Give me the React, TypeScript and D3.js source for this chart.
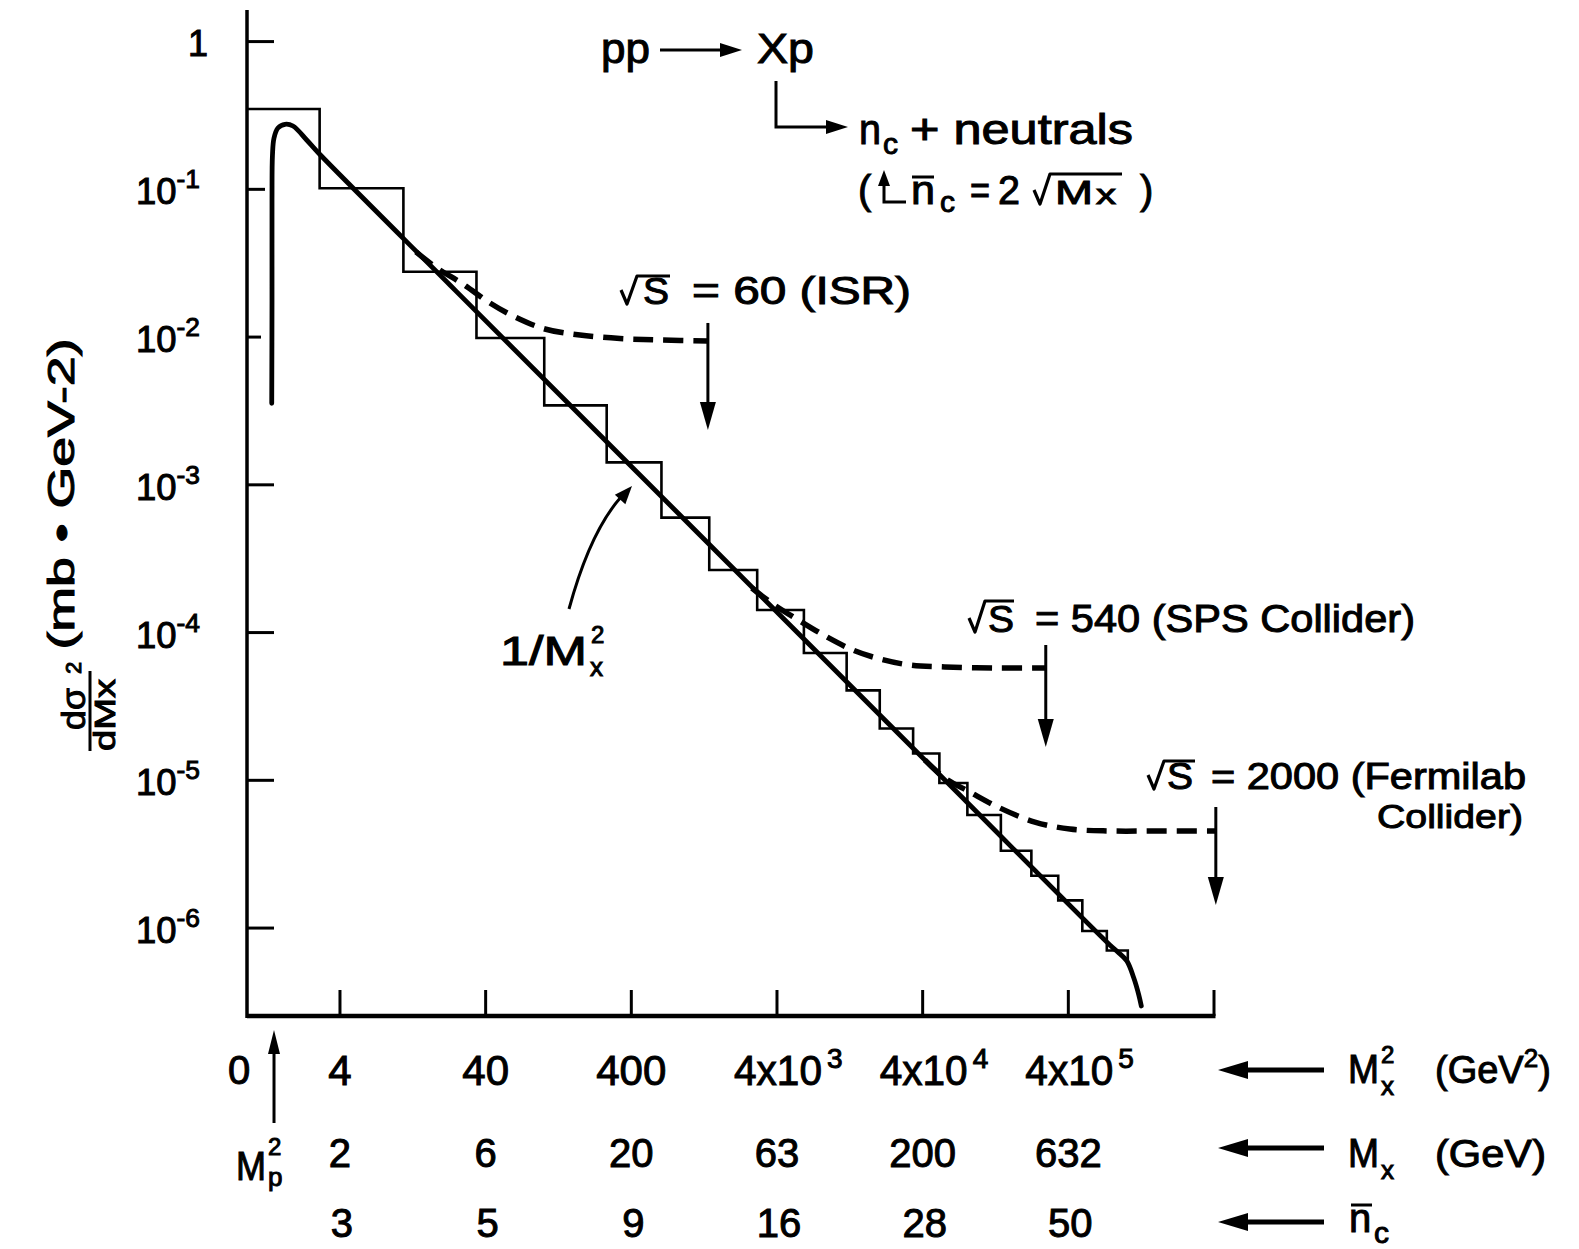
import React from 'react';
import * as d3 from 'd3';

const W = 1579;
const H = 1249;

// x axis: M_x^2 in GeV^2 (log), plus the matching M_x and mean charged multiplicity rows
const mx2Ticks = [4, 40, 400, 4e3, 4e4, 4e5, 4e6];
const mx2Labels = ['4', '40', '400', '4x10', '4x10', '4x10'];
const mx2Powers = ['', '', '', '3', '4', '5'];
const mxLabels = ['2', '6', '20', '63', '200', '632'];
const ncLabels = ['3', '5', '9', '16', '28', '50'];
const mp2 = 1.41; // M_p^2 marker

// y axis: dsigma/dMx^2 in mb GeV^-2 (log)
const yTicks = [1, 1e-1, 1e-2, 1e-3, 1e-4, 1e-5, 1e-6];
const yPowers = ['', '-1', '-2', '-3', '-4', '-5', '-6'];

// histogram: bin edges in Mx^2, contents in mb GeV^-2
const binEdges = [0.92, 2.9, 10.9, 34.6, 101, 271, 644, 1371, 2925, 6120, 12030, 20300,
  34400, 52100, 81100, 137700, 223000, 341000, 499000, 735000, 1024000];
const binValues = [0.35, 0.1016, 0.0277, 0.00986, 0.00345, 0.00142, 6.0e-4, 2.65e-4, 1.42e-4,
  7.28e-5, 4.06e-5, 2.24e-5, 1.52e-5, 9.6e-6, 5.83e-6, 3.34e-6, 2.26e-6, 1.54e-6, 9.55e-7, 7.05e-7];
const binTail = 5.9e-7;

// solid curve (~1/Mx^2 with threshold and kinematic cut-off)
const fitMx2 = [1.36, 1.366, 1.366, 1.376, 1.41, 1.5, 1.677, 1.903, 2.363, 2.871, 22.75, 243.5,
  5744, 61480, 771000, 874500, 1008000, 1126000, 1219000, 1268000];
const fitXsec = [3.56e-3, 1.78e-2, 0.0847, 0.171, 0.2226, 0.26, 0.2756, 0.2684, 0.2158, 0.1748,
  0.02252, 2.175e-3, 9.63e-5, 9.3e-6, 7.68e-7, 6.89e-7, 5.99e-7, 4.59e-7, 3.52e-7, 2.97e-7];

// dashed curves, one per collider energy
const isrMx2 = [13.3, 18.5, 27.9, 42.8, 63.6, 102, 177.5, 334, 628.5, 1342];
const isrXsec = [0.0377, 0.02936, 0.02288, 0.01701, 0.01368, 0.01134, 0.01033, 0.00978, 0.00956, 0.00941];
const spsMx2 = [2690, 3749, 5744, 8802, 13270, 20330, 32680, 56810, 135500, 280000];
const spsXsec = [2.003e-4, 1.562e-4, 1.198e-4, 9.34e-5, 7.62e-5, 6.63e-5, 6.03e-5, 5.85e-5, 5.76e-5, 5.76e-5];
const fnalMx2 = [41410, 56810, 84320, 135500, 235600, 409700, 770800, 1698000, 4117000];
const fnalXsec = [1.373e-5, 1.037e-5, 8.34e-6, 6.5e-6, 5.22e-6, 4.68e-6, 4.54e-6, 4.54e-6, 4.54e-6];

// kinematic limit arrows
const cutMx2 = [1342, 280000, 4117000];
const cutTop = [0.01246, 8.24e-5, 6.6e-6];
const cutTip = [0.00235, 1.681e-5, 1.434e-6];

const font = "'Liberation Sans', Arial, sans-serif";

const x = d3.scaleLog().domain([0.92, 4e6]).range([247, 1214]);
const y = d3.scaleLog().domain([2.54e-7, 1.636]).range([1016, 10]);

function head(tx: number, ty: number, dx: number, dy: number, len: number, half: number) {
  const n = Math.hypot(dx, dy);
  const ux = dx / n, uy = dy / n;
  const bx = tx - ux * len, by = ty - uy * len;
  return `${tx},${ty} ${bx - uy * half},${by + ux * half} ${bx + uy * half},${by - ux * half}`;
}

const Txt = ({ x: tx, y: ty, size = 38, anchor = 'start', len, children }: any) => (
  <text x={tx} y={ty} fontSize={size} textAnchor={anchor} fontFamily={font} fill="#000"
    stroke="#000" strokeWidth={1}
    {...(len ? { textLength: len, lengthAdjust: 'spacingAndGlyphs' } : {})}>{children}</text>
);

// radical sign with vinculum
const Radical = ({ x0, base, top, end }: any) => (
  <path d={`M${x0},${base - 14} L${x0 + 6},${base} L${x0 + 16},${top} H${end}`}
    fill="none" stroke="#000" strokeWidth={3.2} strokeLinejoin="round" />
);

const App = () => {
  const curve = d3.line<[number, number]>()
    .x(d => x(d[0])).y(d => y(d[1]))
    .curve(d3.curveCatmullRom.alpha(0.5));

  const fitPts = fitMx2.map((m, i) => [m, fitXsec[i]] as [number, number]);
  const dashed = [
    isrMx2.map((m, i) => [m, isrXsec[i]] as [number, number]),
    spsMx2.map((m, i) => [m, spsXsec[i]] as [number, number]),
    fnalMx2.map((m, i) => [m, fnalXsec[i]] as [number, number]),
  ];

  // step outline of histogram
  let hist = `M${x(binEdges[0])},${y(binValues[0])}`;
  binValues.forEach((v, i) => {
    hist += ` L${x(binEdges[i])},${y(v)} L${x(binEdges[i + 1])},${y(v)}`;
  });
  hist += ` L${x(binEdges[binEdges.length - 1])},${y(binTail)}`;

  const x0 = x.range()[0], x1 = x.range()[1];
  const yb = y.range()[0], yt = y.range()[1];
  const yTickLen = (i: number) => (i === 1 ? 18 : i === 2 ? 14 : 27);

  const arrowX = 1218, arrowEnd = 1324;
  const rightRows = [1070, 1148, 1222];

  return (
    <div style={{ position: 'absolute', left: 0, top: 0 }}>
      <svg width={W} height={H} viewBox={`0 0 ${W} ${H}`} style={{ display: 'block', background: '#fff' }}>
        <rect width={W} height={H} fill="#fff" />

        {/* axes */}
        <line x1={x0} y1={yt} x2={x0} y2={yb + 2} stroke="#000" strokeWidth={3.5} />
        <line x1={x0} y1={yb} x2={x1 + 1.5} y2={yb} stroke="#000" strokeWidth={4.5} />
        {yTicks.map((t, i) => (
          <line key={'yt' + i} x1={x0} x2={x0 + yTickLen(i)} y1={y(t)} y2={y(t)} stroke="#000" strokeWidth={3} />
        ))}
        {mx2Ticks.map((t, i) => (
          <line key={'xt' + i} x1={x(t)} x2={x(t)} y1={yb} y2={yb - 26} stroke="#000" strokeWidth={3} />
        ))}

        {/* histogram */}
        <path d={hist} fill="none" stroke="#000" strokeWidth={2.6} strokeLinejoin="miter" />

        {/* solid 1/Mx^2 curve */}
        <path d={curve(fitPts) || ''} fill="none" stroke="#000" strokeWidth={4.8} strokeLinecap="round" />

        {/* dashed curves */}
        {dashed.map((pts, i) => (
          <path key={'d' + i} d={curve(pts) || ''} fill="none" stroke="#000" strokeWidth={5.5}
            strokeDasharray="20 10" />
        ))}

        {/* kinematic limit arrows */}
        {cutMx2.map((m, i) => {
          const ax = x(m), ay0 = y(cutTop[i]), ay1 = y(cutTip[i]);
          return (
            <g key={'a' + i}>
              <line x1={ax} x2={ax} y1={ay0} y2={ay1 - 20} stroke="#000" strokeWidth={3} />
              <polygon points={head(ax, ay1, 0, 1, 28, 8)} fill="#000" />
            </g>
          );
        })}

        {/* y tick labels */}
        {yTicks.map((t, i) =>
          i === 0 ? (
            <Txt key={'yl' + i} x={208} y={y(t) + 14} size={36} anchor="end">1</Txt>
          ) : (
            <text key={'yl' + i} x={200} y={y(t) + 15} fontSize={36} textAnchor="end" fontFamily={font}
              stroke="#000" strokeWidth={1} textLength={64} lengthAdjust="spacingAndGlyphs">
              10<tspan dy={-16} fontSize={26}>{yPowers[i]}</tspan>
            </text>
          )
        )}

        {/* y axis title */}
        <g transform="translate(74,494) rotate(-90)">
          <Txt x={0} y={0} size={36} anchor="middle" len={311}>(mb • GeV-2)</Txt>
        </g>
        <g transform="translate(90,707) rotate(-90)">
          <line x1={-44} x2={36} y1={0} y2={0} stroke="#000" strokeWidth={3} />
          <Txt x={-2} y={-5} size={34} anchor="middle" len={42}>dσ</Txt>
          <Txt x={-8} y={25} size={30} anchor="middle" len={72}>dMx</Txt>
          <Txt x={33} y={-9} size={22}>2</Txt>
        </g>

        {/* x labels, three rows */}
        <Txt x={239} y={1084} size={40} anchor="middle">0</Txt>
        {mx2Labels.map((l, i) => {
          const tx = x(mx2Ticks[i]);
          return mx2Powers[i] ? (
            <g key={'xl' + i}>
              <Txt x={tx + 1} y={1085} size={42} anchor="middle" len={88}>{l}</Txt>
              <Txt x={tx + 50} y={1068} size={28}>{mx2Powers[i]}</Txt>
            </g>
          ) : (
            <Txt key={'xl' + i} x={tx} y={1085} size={42} anchor="middle">{l}</Txt>
          );
        })}
        {mxLabels.map((l, i) => (
          <Txt key={'mx' + i} x={x(mx2Ticks[i])} y={1167} size={40} anchor="middle">{l}</Txt>
        ))}
        {ncLabels.map((l, i) => (
          <Txt key={'nc' + i} x={x(mx2Ticks[i]) + 2} y={1237} size={40} anchor="middle">{l}</Txt>
        ))}

        {/* M_p^2 marker */}
        <line x1={x(mp2)} x2={x(mp2)} y1={1050} y2={1123} stroke="#000" strokeWidth={3} />
        <polygon points={head(x(mp2), 1030, 0, -1, 24, 6)} fill="#000" />
        <Txt x={236} y={1180} size={40} len={30}>M</Txt>
        <Txt x={268} y={1155} size={24}>2</Txt>
        <Txt x={268} y={1186} size={26}>p</Txt>

        {/* right-hand row captions */}
        {rightRows.map((ry, i) => (
          <g key={'ra' + i}>
            <line x1={arrowX + 20} x2={arrowEnd} y1={ry} y2={ry} stroke="#000" strokeWidth={5} />
            <polygon points={head(arrowX, ry, -1, 0, 30, 9)} fill="#000" />
          </g>
        ))}
        <Txt x={1348} y={1083} size={40} len={31}>M</Txt>
        <Txt x={1381} y={1095} size={26}>x</Txt>
        <Txt x={1381} y={1063} size={24}>2</Txt>
        <text x={1435} y={1083} fontSize={38} fontFamily={font} stroke="#000" strokeWidth={1}>
          (GeV<tspan dy={-16} fontSize={26}>2</tspan><tspan dy={16}>)</tspan>
        </text>
        <Txt x={1348} y={1167} size={40} len={31}>M</Txt>
        <Txt x={1381} y={1179} size={26}>x</Txt>
        <Txt x={1435} y={1167} size={38} len={111}>(GeV)</Txt>
        <Txt x={1349} y={1232} size={40}>n</Txt>
        <line x1={1351} x2={1372} y1={1205} y2={1205} stroke="#000" strokeWidth={3} />
        <Txt x={1374} y={1243} size={30}>c</Txt>

        {/* reaction */}
        <Txt x={601} y={63} size={42} len={49}>pp</Txt>
        <line x1={660} x2={724} y1={50} y2={50} stroke="#000" strokeWidth={3} />
        <polygon points={head(742, 50, 1, 0, 22, 7)} fill="#000" />
        <Txt x={757} y={63} size={42} len={57}>Xp</Txt>
        <path d="M776,81 V127 H828" fill="none" stroke="#000" strokeWidth={3} />
        <polygon points={head(848, 127, 1, 0, 22, 7)} fill="#000" />
        <Txt x={859} y={144} size={42} len={22}>n</Txt>
        <Txt x={883} y={154} size={30}>c</Txt>
        <Txt x={910} y={144} size={42} len={223}>+ neutrals</Txt>
        <Txt x={858} y={204} size={40}>(</Txt>
        <path d="M884,184 V202 H906" fill="none" stroke="#000" strokeWidth={3} />
        <polygon points={head(884, 170, 0, -1, 16, 6)} fill="#000" />
        <Txt x={911} y={204} size={40} len={24}>n</Txt>
        <line x1={912} x2={934} y1={177} y2={177} stroke="#000" strokeWidth={3} />
        <Txt x={940} y={212} size={30}>c</Txt>
        <Txt x={970} y={204} size={40} len={20}>=</Txt>
        <Txt x={998} y={204} size={40} len={22}>2</Txt>
        <Radical x0={1034} base={204} top={174} end={1122} />
        <Txt x={1055} y={204} size={34} len={38}>M</Txt>
        <Txt x={1096} y={204} size={28} len={20}>x</Txt>
        <Txt x={1140} y={204} size={40}>)</Txt>

        {/* energy captions */}
        <Radical x0={621} base={304} top={276} end={670} />
        <Txt x={643} y={304} size={36} len={26}>S</Txt>
        <Txt x={692} y={304} size={38} len={219}>= 60 (ISR)</Txt>

        <Radical x0={969} base={632} top={601} end={1014} />
        <Txt x={988} y={632} size={36} len={26}>S</Txt>
        <Txt x={1035} y={632} size={38} len={380}>= 540 (SPS Collider)</Txt>

        <Radical x0={1148} base={789} top={761} end={1195} />
        <Txt x={1167} y={789} size={36} len={26}>S</Txt>
        <Txt x={1211} y={789} size={36} len={315}>= 2000 (Fermilab</Txt>
        <Txt x={1377} y={828} size={34} len={146}>Collider)</Txt>

        {/* 1/Mx^2 label and pointer */}
        <Txt x={500} y={665} size={40} len={87}>1/M</Txt>
        <Txt x={590} y={676} size={26}>x</Txt>
        <Txt x={591} y={643} size={24}>2</Txt>
        <path d="M569,609 Q590,532 621,497" fill="none" stroke="#000" strokeWidth={3} />
        <polygon points={head(632, 486, 41, -46.5, 18, 7)} fill="#000" />
      </svg>
    </div>
  );
};

export default App;
